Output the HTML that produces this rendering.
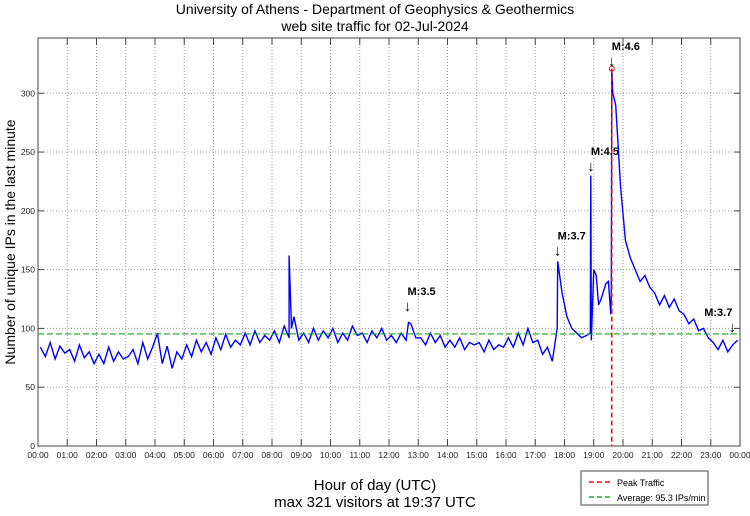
<!DOCTYPE html>
<html><head><meta charset="utf-8"><style>
body{margin:0;background:#fff;width:750px;height:511px;overflow:hidden;font-family:"Liberation Sans",sans-serif}
</style></head><body>
<svg id="chart" width="750" height="511" xmlns="http://www.w3.org/2000/svg" font-family="Liberation Sans, sans-serif">
<text x="375" y="14" text-anchor="middle" font-size="14">University of Athens - Department of Geophysics &amp; Geothermics</text>
<text x="375" y="31" text-anchor="middle" font-size="14">web site traffic for 02-Jul-2024</text>
<g id="grid"></g>
<g id="axes"></g>
<g id="series"></g>
<g id="notes"></g>
<text transform="translate(15,242) rotate(-90)" text-anchor="middle" font-size="14">Number of unique IPs in the last minute</text>
<text x="375" y="490" text-anchor="middle" font-size="15">Hour of day (UTC)</text>
<text x="375" y="507" text-anchor="middle" font-size="15">max 321 visitors at 19:37 UTC</text>
<g>
<rect x="581" y="471" width="127" height="34" fill="#fff" stroke="#444"/>
<line x1="589" y1="482" x2="612" y2="482" stroke="red" stroke-width="1.5" stroke-dasharray="5,3"/>
<text x="617" y="486" font-size="9">Peak Traffic</text>
<line x1="589" y1="497" x2="612" y2="497" stroke="#2a2" stroke-width="1.5" stroke-dasharray="5,3"/>
<text x="617" y="501" font-size="9">Average: 95.3 IPs/min</text>
</g>
</svg>
<script>
const yTicks=[0,50,100,150,200,250,300];
const xTickLabels=["00:00","01:00","02:00","03:00","04:00","05:00","06:00","07:00","08:00","09:00","10:00","11:00","12:00","13:00","14:00","15:00","16:00","17:00","18:00","19:00","20:00","21:00","22:00","23:00","00:00"];
const visitors10min=[
84,76,88,74,85,79, 82,72,86,75,80,70, 78,70,84,72,80,74, 76,82,70,88,74,84,
96,70,85,66,80,74, 86,76,90,80,88,78, 92,82,95,84,90,86, 96,86,98,88,94,90,
98,88,102,92,110,90, 96,88,100,90,98,92, 100,88,96,90,102,94, 96,88,98,92,100,90,
94,88,96,90,104,92, 92,86,96,88,94,84, 90,84,92,82,88,86, 88,80,90,82,86,84,
92,84,96,86,100,88, 90,78,84,72,100,130, 110,100,96,92,94,90, 145,125,138,112,290,220,
175,160,150,140,145,135, 130,120,128,118,125,115, 112,104,108,98,100,92, 88,82,90,80,86,90];
const spikeMinutes=[515,520,760,1066,1133,1134,1140,1150,1170,1176,1177,1179];
const spikeValues=[162,100,105,157,96,230,150,120,140,130,321,300];
const averageValue=95.3;
const peakMinute=1177, peakValue=321;
const noteLabels=["M:3.5","M:3.7","M:4.5","M:4.6","M:3.7"];
const noteMinutes=[758,1066,1134,1177,1424];
const noteValues=[115,162,234,323,97];

const L=38,R=740,T=38,B=446,YMAX=347;
const sx=m=>L+m/1440*(R-L), sy=v=>B-v/YMAX*(B-T);
const NS="http://www.w3.org/2000/svg";
function mk(tag,attrs,parent){const e=document.createElementNS(NS,tag);for(const k in attrs)e.setAttribute(k,attrs[k]);document.getElementById(parent).appendChild(e);return e;}
yTicks.forEach(v=>{if(v>0){const g=mk('line',{x1:L,x2:R,y1:sy(v),y2:sy(v),stroke:'#999','stroke-dasharray':'1,2'},'grid');}
 const t=mk('line',{x1:L,x2:L+6,y1:sy(v),y2:sy(v),stroke:'#444'},'axes');
 const t2=mk('line',{x1:R-6,x2:R,y1:sy(v),y2:sy(v),stroke:'#444'},'axes');
 const l=mk('text',{x:L-3,y:sy(v)+3,'text-anchor':'end','font-size':'8.5',fill:'#222'},'axes');l.textContent=v;});
xTickLabels.forEach((s,i)=>{const x=sx(i*60);
 if(i>0&&i<24){const g=mk('line',{x1:x,x2:x,y1:T,y2:B,stroke:'#999','stroke-dasharray':'1,2'},'grid');}
 const t=mk('line',{x1:x,x2:x,y1:B-7,y2:B,stroke:'#444'},'axes');
 const t2=mk('line',{x1:x,x2:x,y1:T,y2:T+7,stroke:'#444'},'axes');
 const l=mk('text',{x:x,y:B+12,'text-anchor':'middle','font-size':'8.5',fill:'#222'},'axes');l.textContent=s;});
const frame=mk('rect',{x:L,y:T,width:R-L,height:B-T,fill:'none',stroke:'#444'},'axes');

let pts=visitors10min.map((v,i)=>[i*10+5,v]);
spikeMinutes.forEach((m,i)=>pts.push([m,spikeValues[i]]));
pts.sort((a,b)=>a[0]-b[0]);
const line=mk('polyline',{points:pts.map(p=>sx(p[0]).toFixed(1)+','+sy(p[1]).toFixed(1)).join(' '),fill:'none',stroke:'#0000ff','stroke-width':'1.4'},'series');

const avg=mk('line',{x1:L,x2:R,y1:sy(averageValue),y2:sy(averageValue),stroke:'#1a1','stroke-width':'1.2','stroke-dasharray':'6,3'},'series');

const pk=mk('line',{x1:sx(peakMinute),x2:sx(peakMinute),y1:sy(peakValue),y2:B,stroke:'red','stroke-width':'1.5','stroke-dasharray':'5,3'},'series');

const pc=mk('circle',{cx:sx(peakMinute),cy:sy(peakValue),r:2.5,fill:'none',stroke:'red'},'series');

noteLabels.forEach((s,i)=>{const x=sx(noteMinutes[i]),y=sy(noteValues[i]);
 const a=mk('text',{x:x,y:y,'text-anchor':'middle','font-size':'15'},'notes');a.textContent='↓';
 const t=mk('text',{x:i==4?x-28:x,y:y-16,'font-size':'11','font-weight':'bold'},'notes');t.textContent=s;});
</script>
</body></html>
